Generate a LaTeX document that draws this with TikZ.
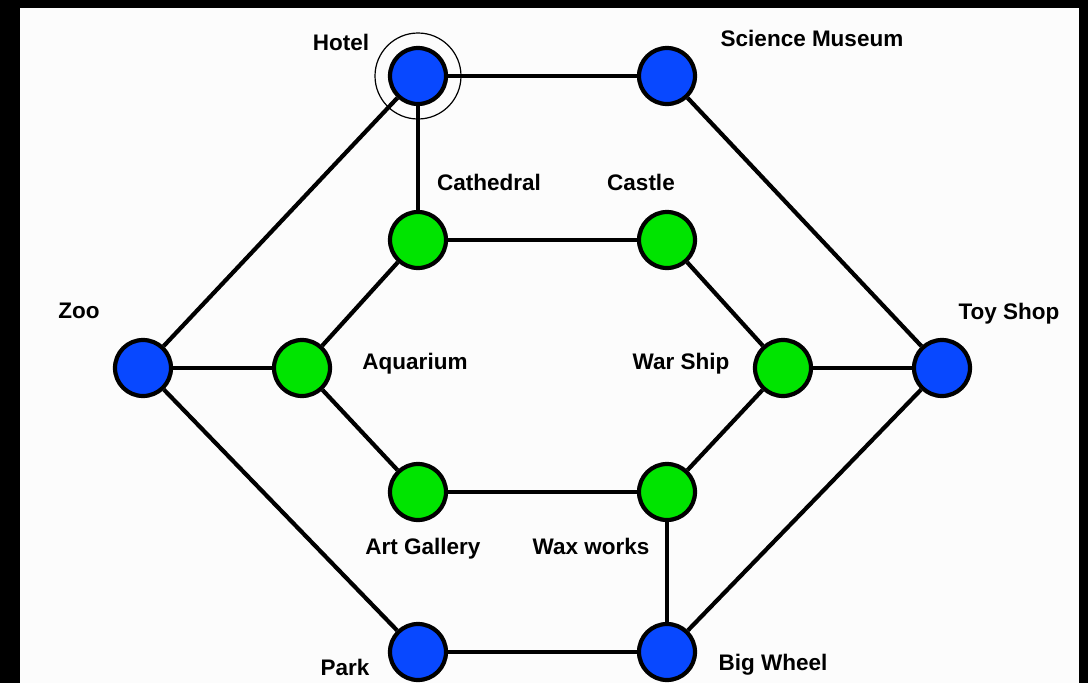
\documentclass[tikz,border=0pt]{standalone}
\usepackage{fontspec}
\setmainfont{Liberation Sans}
\definecolor{nodeblue}{RGB}{8,72,255}
\definecolor{nodegreen}{RGB}{0,228,0}
\definecolor{panel}{RGB}{252,252,252}
\begin{document}
\begin{tikzpicture}[x=1pt,y=-1pt,
  place/.style={circle,draw=black,line width=4.2pt,minimum size=56pt,inner sep=0pt},
  bluenode/.style={place,fill=nodeblue},
  greennode/.style={place,fill=nodegreen},
  lbl/.style={font=\fontsize{22.5}{24}\selectfont\bfseries,text height=16pt,text depth=0pt,inner sep=0pt,anchor=center},
  edge/.style={line width=4.2pt}]
\useasboundingbox (0,0) rectangle (1088,683);
\fill[black] (0,0) rectangle (1088,683);
\fill[panel] (19.5,8) rectangle (1078.5,690);
% edges first (behind nodes)
\coordinate (photel) at (418,76);
% nodes
\node[bluenode] (hotel) at (418,76) {};
\node[bluenode] (sci) at (667,76) {};
\node[greennode] (cath) at (418,240) {};
\node[greennode] (castle) at (667,240) {};
\node[bluenode] (zoo) at (143,368) {};
\node[greennode] (aqua) at (302,368) {};
\node[greennode] (war) at (783,368) {};
\node[bluenode] (toy) at (942,368) {};
\node[greennode] (art) at (418,492) {};
\node[greennode] (wax) at (667,492) {};
\node[bluenode] (park) at (418,652) {};
\node[bluenode] (wheel) at (667,652) {};
\node[circle,draw=black,line width=1.2pt,minimum size=86pt,inner sep=0pt] (ring) at (hotel) {};
% edges
\draw[edge] (hotel) -- (sci);
\draw[edge] (hotel) -- (cath);
\draw[edge] (hotel) -- (zoo);
\draw[edge] (sci) -- (toy);
\draw[edge] (cath) -- (castle);
\draw[edge] (cath) -- (aqua);
\draw[edge] (castle) -- (war);
\draw[edge] (zoo) -- (aqua);
\draw[edge] (zoo) -- (park);
\draw[edge] (aqua) -- (art);
\draw[edge] (war) -- (toy);
\draw[edge] (war) -- (wax);
\draw[edge] (art) -- (wax);
\draw[edge] (wax) -- (wheel);
\draw[edge] (toy) -- (wheel);
\draw[edge] (park) -- (wheel);
% labels
\node[lbl] (lhotel) at (341,42) {Hotel};
\node[lbl] (lsci) at (812,38) {Science Museum};
\node[lbl] (lcath) at (489,182) {Cathedral};
\node[lbl] (lcastle) at (641,182) {Castle};
\node[lbl] (lzoo) at (79,310) {Zoo};
\node[lbl] (laqua) at (415,361) {Aquarium};
\node[lbl] (lwar) at (681,361) {War Ship};
\node[lbl] (ltoy) at (1009,311) {Toy Shop};
\node[lbl] (lart) at (423,546) {Art Gallery};
\node[lbl] (lwax) at (591,546) {Wax works};
\node[lbl] (lpark) at (345,667) {Park};
\node[lbl] (lwheel) at (773,662) {Big Wheel};
\end{tikzpicture}
\end{document}
